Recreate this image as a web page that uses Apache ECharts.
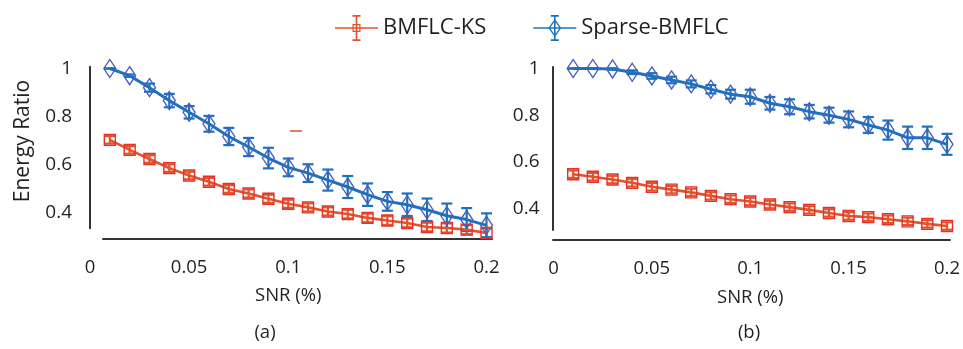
<!DOCTYPE html>
<html>
<head>
<meta charset="utf-8">
<script src="https://cdn.jsdelivr.net/npm/echarts@6/dist/echarts.min.js"></script>
<style>
  html, body { margin: 0; padding: 0; background: #fff; }
  #chart { width: 963px; height: 349px; }
</style>
</head>
<body>
<div id="chart"></div>
<script>
// SNR values on the x axis
const snr = [0.01, 0.02, 0.03, 0.04, 0.05, 0.06, 0.07, 0.08, 0.09, 0.10,
             0.11, 0.12, 0.13, 0.14, 0.15, 0.16, 0.17, 0.18, 0.19, 0.20];

// panel (a)
const aKs = [0.702, 0.660, 0.622, 0.584, 0.553, 0.527, 0.497, 0.478, 0.456, 0.435,
             0.420, 0.403, 0.392, 0.376, 0.365, 0.355, 0.338, 0.334, 0.327, 0.313];
const aKsErr = [0.016, 0.016, 0.016, 0.016, 0.016, 0.016, 0.016, 0.017, 0.017, 0.017,
                0.017, 0.017, 0.018, 0.018, 0.018, 0.018, 0.018, 0.019, 0.019, 0.019];
const aSp = [1.000, 0.970, 0.920, 0.866, 0.817, 0.769, 0.716, 0.672, 0.626, 0.587,
             0.563, 0.534, 0.505, 0.473, 0.445, 0.431, 0.410, 0.385, 0.369, 0.345];
const aSpErr = [0.000, 0.005, 0.017, 0.028, 0.026, 0.033, 0.036, 0.038, 0.043, 0.037,
                0.037, 0.044, 0.046, 0.047, 0.039, 0.047, 0.047, 0.051, 0.048, 0.050];

// panel (b)
const bKs = [0.547, 0.536, 0.524, 0.510, 0.493, 0.481, 0.469, 0.454, 0.440, 0.430,
             0.417, 0.406, 0.394, 0.381, 0.368, 0.363, 0.354, 0.345, 0.334, 0.325];
const bKsErr = [0.016, 0.016, 0.016, 0.016, 0.016, 0.016, 0.016, 0.016, 0.016, 0.016,
                0.016, 0.016, 0.016, 0.016, 0.016, 0.016, 0.016, 0.016, 0.016, 0.016];
const bSp = [1.000, 1.000, 0.998, 0.984, 0.968, 0.951, 0.934, 0.911, 0.890, 0.879,
             0.851, 0.836, 0.815, 0.800, 0.782, 0.758, 0.736, 0.703, 0.703, 0.675];
const bSpErr = [0.000, 0.000, 0.003, 0.008, 0.012, 0.014, 0.015, 0.018, 0.019, 0.030,
                0.027, 0.032, 0.029, 0.032, 0.034, 0.034, 0.041, 0.048, 0.048, 0.045];

const yTicks = [0.4, 0.6, 0.8, 1];

const RED = '#e2532b';
const RED_MARK = '#e8302a';
const BLUE = '#1b73bd';
const BLUE_MARK = '#4a5cc0';
const INK = '#231f20';
const FONT = 'Open Sans';

// legend icons: line + marker outline + error bar, as filled path pieces
const ksIcon = 'path://M0 12.2H43V13.8H0Z M20.7 1H22.3V25H20.7Z M17.5 0H25.5V1.8H17.5Z M17.5 24.2H25.5V26H17.5Z ' +
  'M17.5 9H25.5V17H17.5Z M18.7 10.2V15.8H24.3V10.2Z';
const spIcon = 'path://M0 12.2H43V13.8H0Z M20.7 1H22.3V25H20.7Z M17.5 0H25.5V1.8H17.5Z M17.5 24.2H25.5V26H17.5Z ' +
  'M21.5 4L28 13L21.5 22L15 13Z M21.5 6.2L16.6 13L21.5 19.8L26.4 13Z';

function pairs(ys) {
  return snr.map((x, i) => [x, ys[i]]);
}
function bars(ys, errs) {
  return snr.map((x, i) => [x, ys[i] - errs[i], ys[i] + errs[i]]);
}

function errorSeries(name, idx, ys, errs, color) {
  return {
    type: 'custom',
    name: name,
    xAxisIndex: idx,
    yAxisIndex: idx,
    z: 3,
    data: bars(ys, errs),
    renderItem: function (params, api) {
      const lo = api.coord([api.value(0), api.value(1)]);
      const hi = api.coord([api.value(0), api.value(2)]);
      const hw = 5.5;
      const style = { stroke: color, lineWidth: 2.2 };
      return {
        type: 'group',
        children: [
          { type: 'line', shape: { x1: lo[0], y1: lo[1], x2: hi[0], y2: hi[1] }, style: style },
          { type: 'line', shape: { x1: lo[0] - hw, y1: lo[1], x2: lo[0] + hw, y2: lo[1] }, style: style },
          { type: 'line', shape: { x1: hi[0] - hw, y1: hi[1], x2: hi[0] + hw, y2: hi[1] }, style: style }
        ]
      };
    }
  };
}

function lineSeries(name, idx, ys, color, markColor, symbol, size, width) {
  return {
    type: 'line',
    name: name,
    xAxisIndex: idx,
    yAxisIndex: idx,
    data: pairs(ys),
    symbol: symbol,
    symbolSize: size,
    showAllSymbol: true,
    clip: false,
    lineStyle: { color: color, width: width },
    itemStyle: { color: 'rgba(255,255,255,0)', borderColor: markColor, borderWidth: 1.4 },
    emphasis: { disabled: true }
  };
}

function dataX(gap) {
  return {
    type: 'value', min: 0, max: 0.2, interval: 0.05,
    axisLine: { show: false }, axisTick: { show: false }, splitLine: { show: false },
    axisLabel: { margin: gap, color: INK, fontFamily: FONT, fontSize: 18.5,
      formatter: v => String(Math.round(v * 100) / 100) },
    name: 'SNR (%)', nameLocation: 'middle', nameGap: 48,
    nameTextStyle: { color: INK, fontFamily: FONT, fontSize: 18.5 }
  };
}
function dataY(min, gap) {
  return {
    type: 'value', min: min, max: 1,
    axisLine: { show: false }, axisTick: { show: false }, splitLine: { show: false },
    axisLabel: { customValues: yTicks, margin: gap, color: INK, fontFamily: FONT, fontSize: 19 }
  };
}
function frameX(idx) {
  return {
    type: 'value', gridIndex: idx, min: 0, max: 1, offset: 10,
    axisLine: { show: true, onZero: false, lineStyle: { color: '#333', width: 2 } },
    axisTick: { show: false }, axisLabel: { show: false }, splitLine: { show: false }
  };
}
function frameY(idx, off) {
  return {
    type: 'value', gridIndex: idx, min: 0, max: 1, offset: off,
    axisLine: { show: true, onZero: false, lineStyle: { color: '#333', width: 2 } },
    axisTick: { show: false }, axisLabel: { show: false }, splitLine: { show: false }
  };
}

const chart = echarts.init(document.getElementById('chart'));
chart.setOption({
  backgroundColor: '#fff',
  animation: false,
  legend: {
    top: 10,
    left: 330,
    itemWidth: 43,
    itemHeight: 26,
    itemGap: 47,
    textStyle: { color: INK, fontFamily: FONT, fontSize: 22 },
    data: [
      { name: 'BMFLC-KS', icon: ksIcon, itemStyle: { color: RED, borderWidth: 0 } },
      { name: 'Sparse-BMFLC', icon: spIcon, itemStyle: { color: BLUE, borderWidth: 0 } }
    ]
  },
  grid: [
    { left: 90, width: 396.5, top: 68.5, height: 170 },
    { left: 103, width: 389, top: 66.7, height: 161.6 },
    { left: 553.5, width: 396.5, top: 68.5, height: 171.5 },
    { left: 553, width: 397, top: 67, height: 163 }
  ],
  xAxis: [
    Object.assign(dataX(20), { gridIndex: 0 }),
    frameX(1),
    Object.assign(dataX(19), { gridIndex: 2 }),
    frameX(3)
  ],
  yAxis: [
    Object.assign(dataY(0.29, 18), { gridIndex: 0 }),
    frameY(1, 13),
    Object.assign(dataY(0.265, 14), { gridIndex: 2 }),
    frameY(3, 0)
  ],
  graphic: [
    { type: 'text', x: 23, y: 141, rotation: Math.PI / 2,
      style: { text: 'Energy Ratio', fill: INK, font: '21px "Open Sans"', align: 'center', verticalAlign: 'middle' } },
    { type: 'text', x: 265, y: 333,
      style: { text: '(a)', fill: INK, font: '18.5px "Open Sans"', align: 'center', verticalAlign: 'middle' } },
    { type: 'text', x: 749, y: 333,
      style: { text: '(b)', fill: INK, font: '18.5px "Open Sans"', align: 'center', verticalAlign: 'middle' } },
    // stray short red dash present in the source figure
    { type: 'line', shape: { x1: 290, y1: 131, x2: 302, y2: 131 }, style: { stroke: RED, lineWidth: 1.5 } }
  ],
  series: [
    lineSeries('BMFLC-KS', 0, aKs, RED, RED_MARK, 'rect', 11, 2.6),
    lineSeries('Sparse-BMFLC', 0, aSp, BLUE, BLUE_MARK, 'diamond', [12, 18], 3),
    errorSeries('a-ks-err', 0, aKs, aKsErr, RED),
    errorSeries('a-sp-err', 0, aSp, aSpErr, BLUE),
    lineSeries('BMFLC-KS', 2, bKs, RED, RED_MARK, 'rect', 11, 2.6),
    lineSeries('Sparse-BMFLC', 2, bSp, BLUE, BLUE_MARK, 'diamond', [12, 18], 3),
    errorSeries('b-ks-err', 2, bKs, bKsErr, RED),
    errorSeries('b-sp-err', 2, bSp, bSpErr, BLUE)
  ]
});
</script>
</body>
</html>
